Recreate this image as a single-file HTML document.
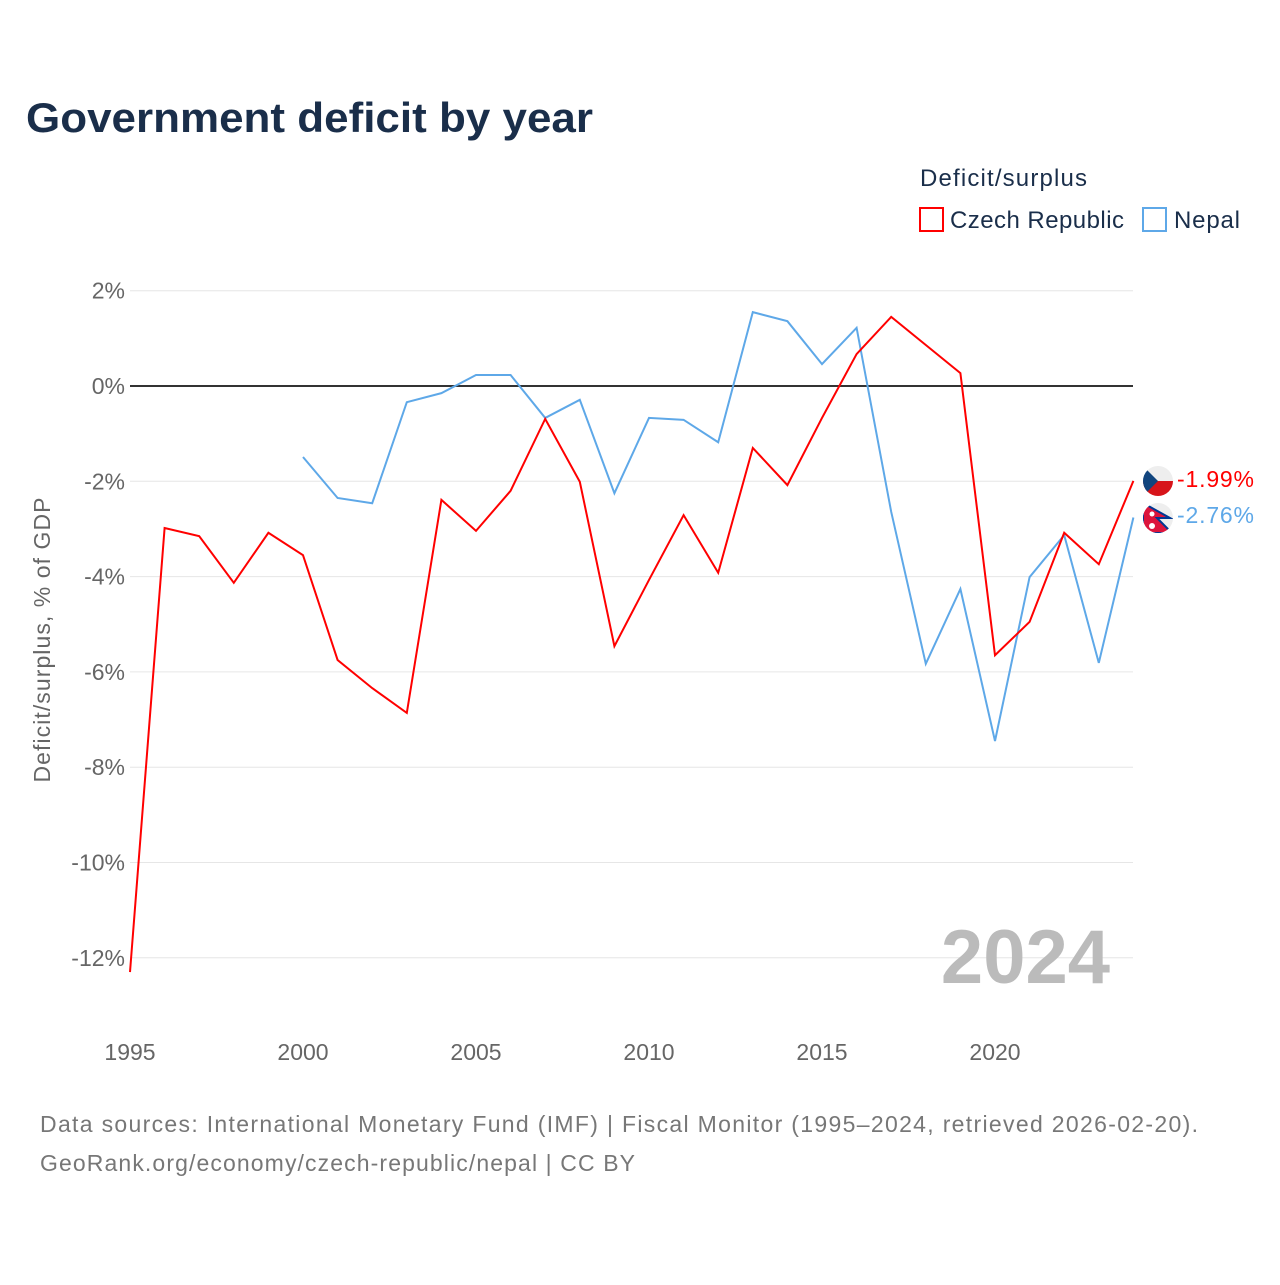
<!DOCTYPE html>
<html><head><meta charset="utf-8"><style>
body{margin:0;background:#fff;font-family:"Liberation Sans",sans-serif}
svg text{font-family:"Liberation Sans",sans-serif}
</style></head><body>
<svg width="1280" height="1280">
<text x="26" y="132" font-size="42" font-weight="bold" fill="#1a2e4a" textLength="567" lengthAdjust="spacingAndGlyphs">Government deficit by year</text>
<text x="920" y="186" font-size="24" fill="#1a2e4a" textLength="167">Deficit/surplus</text>
<g><rect x="920" y="208" width="23" height="23" fill="none" stroke="#f00" stroke-width="2"/><text x="950" y="228" font-size="24" fill="#1a2e4a" textLength="174">Czech Republic</text></g>
<g><rect x="1143" y="208" width="23" height="23" fill="none" stroke="#5ea8e8" stroke-width="2"/><text x="1174" y="228" font-size="24" fill="#1a2e4a" textLength="66">Nepal</text></g>
<g id="grid"></g>
<text transform="translate(50,640) rotate(-90)" text-anchor="middle" font-size="23" fill="#666" textLength="285">Deficit/surplus, % of GDP</text>
<text x="1110" y="983" text-anchor="end" font-size="76" font-weight="bold" fill="#bbb">2024</text>
<g id="lines"></g>
<g><clipPath id="c1"><circle cx="1158" cy="481" r="15"/></clipPath><g clip-path="url(#c1)"><rect x="1143" y="466" width="30" height="15" fill="#eee"/><rect x="1143" y="481" width="30" height="15" fill="#d7141a"/><polygon points="1143,466 1158,481 1143,496" fill="#11457e"/></g></g>
<g><circle cx="1158" cy="518" r="15" fill="#eee"/><clipPath id="c2"><circle cx="1158" cy="518" r="15"/></clipPath><g clip-path="url(#c2)"><polygon points="1143,503 1170,518 1157,518 1172,533 1143,533" fill="#dc143c" stroke="#003893" stroke-width="2"/><circle cx="1152" cy="514" r="2.5" fill="#fff"/><circle cx="1152" cy="526" r="3" fill="#fff"/></g></g>
<text x="1177" y="487" font-size="23" fill="#f00" textLength="77">-1.99%</text>
<text x="1177" y="523" font-size="23" fill="#5ea8e8" textLength="77">-2.76%</text>
<text x="40" y="1132" font-size="23" fill="#777" textLength="1158">Data sources: International Monetary Fund (IMF) | Fiscal Monitor (1995–2024, retrieved 2026-02-20).</text>
<text x="40" y="1171" font-size="23" fill="#777" textLength="595">GeoRank.org/economy/czech-republic/nepal | CC BY</text>
</svg>
<script>
const yTicks=[2,0,-2,-4,-6,-8,-10,-12];
const xTicks=[1995,2000,2005,2010,2015,2020];
const czechYears=[1995,1996,1997,1998,1999,2000,2001,2002,2003,2004,2005,2006,2007,2008,2009,2010,2011,2012,2013,2014,2015,2016,2017,2018,2019,2020,2021,2022,2023,2024];
const czechValues=[-12.3,-2.98,-3.15,-4.13,-3.08,-3.55,-5.75,-6.34,-6.86,-2.39,-3.04,-2.2,-0.69,-2.01,-5.46,-4.07,-2.71,-3.92,-1.3,-2.08,-0.67,0.67,1.45,0.86,0.27,-5.65,-4.95,-3.08,-3.74,-1.99];
const nepalYears=[2000,2001,2002,2003,2004,2005,2006,2007,2008,2009,2010,2011,2012,2013,2014,2015,2016,2017,2018,2019,2020,2021,2022,2023,2024];
const nepalValues=[-1.49,-2.35,-2.46,-0.34,-0.15,0.23,0.23,-0.67,-0.29,-2.25,-0.67,-0.71,-1.18,1.55,1.36,0.46,1.22,-2.64,-5.83,-4.26,-7.45,-4.01,-3.13,-5.81,-2.76];
const X=yr=>130+(yr-1995)*34.6;
const Y=v=>386-v*47.65;
const NS='http://www.w3.org/2000/svg';
const grid=document.getElementById('grid');
yTicks.forEach(t=>{
 const l=document.createElementNS(NS,'line');
 l.setAttribute('x1',130);l.setAttribute('x2',1133);l.setAttribute('y1',Y(t));l.setAttribute('y2',Y(t));
 l.setAttribute('stroke',t===0?'#333':'#e6e6e6');l.setAttribute('stroke-width',t===0?2:1);
 
 
 grid.appendChild(l);
 const tx=document.createElementNS(NS,'text');
 tx.setAttribute('x',125);tx.setAttribute('y',Y(t)+8);tx.setAttribute('text-anchor','end');
 tx.setAttribute('font-size','23');tx.setAttribute('fill','#666');
 tx.textContent=t+'%';
 
 
 grid.appendChild(tx);
});
xTicks.forEach(t=>{
 const tx=document.createElementNS(NS,'text');
 tx.setAttribute('x',X(t));tx.setAttribute('y',1060);tx.setAttribute('text-anchor','middle');
 tx.setAttribute('font-size','23');tx.setAttribute('fill','#666');
 tx.textContent=t;
 
 
 grid.appendChild(tx);
});
const lines=document.getElementById('lines');
function draw(ys,vs,c,n){
 const p=document.createElementNS(NS,'polyline');
 p.setAttribute('points',ys.map((y,i)=>X(y)+','+Y(vs[i])).join(' '));
 p.setAttribute('fill','none');p.setAttribute('stroke',c);p.setAttribute('stroke-width','2');
 
 
 lines.appendChild(p);
}
draw(nepalYears,nepalValues,'#5ea8e8','nepal-line');
draw(czechYears,czechValues,'#f00','czech-line');
</script>
</body></html>
